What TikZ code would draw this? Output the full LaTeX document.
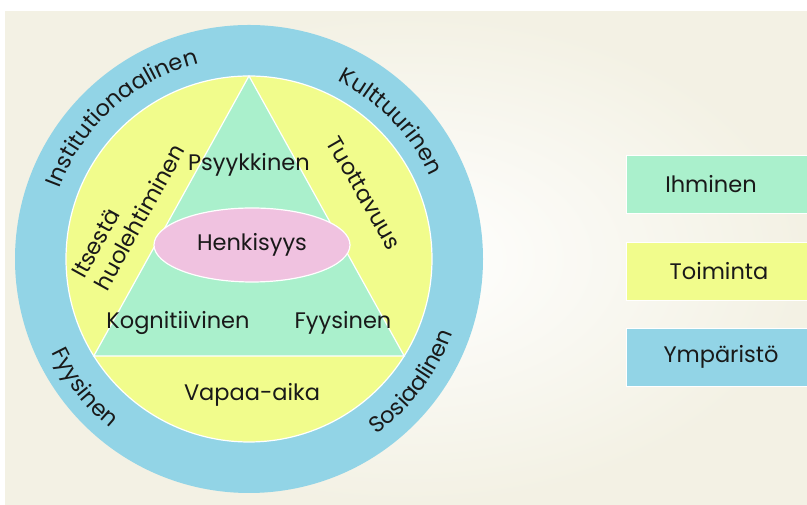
\documentclass[tikz,border=0pt]{standalone}
\usepackage{fontspec}
\setmainfont{Poppins}
\usetikzlibrary{calc,positioning,shapes.geometric,decorations.text}
\definecolor{ringblue}{RGB}{146,212,230}
\definecolor{actyellow}{RGB}{241,252,140}
\definecolor{mangreen}{RGB}{170,240,204}
\definecolor{spirpink}{RGB}{240,194,224}
\definecolor{bgbeige}{RGB}{243,241,228}
\definecolor{txt}{RGB}{25,25,25}
\newcommand{\ringfont}{\fontsize{22.5}{26}\selectfont}
\tikzset{lbl/.style={font=\fontsize{22.5}{26}\selectfont,text=txt,inner sep=1pt},
  legbox/.style={draw=white,line width=0.8pt,minimum width=200pt,minimum height=58pt,inner sep=0pt},
  edge/.style={draw=white,line width=1.2pt},
  ringtext/.style={decorate,decoration={text along path,text align=center}}}
\begin{document}
\begin{tikzpicture}[x=1pt,y=1pt]
\useasboundingbox (0,0) rectangle (807,505);
\shade[inner color=white,outer color=bgbeige] (5,0) rectangle (807,493);
\coordinate (ctr) at (249,246);
\fill[ringblue] (ctr) circle[radius=234];
\fill[actyellow,edge] (ctr) circle[radius=183];
\filldraw[fill=mangreen,edge] ($(ctr)+(90:183)$) coordinate (apex)
  -- ($(ctr)+(212:183)$) coordinate (bl) -- ($(ctr)+(-32:183)$) coordinate (br) -- cycle;
\node[ellipse,fill=spirpink,edge,lbl,minimum width=196pt,minimum height=74pt] (henk) at (252,260) {Henkisyys};
\node[lbl] (psyk) at (249,340) {Psyykkinen};
\node[lbl] (kogn) at (178,182) {Kognitiivinen};
\node[lbl] (fyys) at (343,182) {Fyysinen};
\node[lbl] (vapaa) at (252,110) {Vapaa-aika};
\node[lbl,rotate=61,align=left] (itse) at (128,294) {Itsestä\\huolehtiminen};
\node[lbl,rotate=-60] (tuot) at (364,312) {Tuottavuus};
\path[ringtext,decoration={text={|\ringfont\color{txt}|Institutionaalinen}}]
  ($(ctr)+(172:202)$) arc[start angle=172,end angle=92,radius=202];
\path[ringtext,decoration={text={|\ringfont\color{txt}|Kulttuurinen}}]
  ($(ctr)+(74:199)$) arc[start angle=74,end angle=14,radius=199];
\path[ringtext,decoration={text={|\ringfont\color{txt}|Fyysinen}}]
  ($(ctr)+(198:219)$) arc[start angle=198,end angle=238,radius=219];
\path[ringtext,decoration={text={|\ringfont\color{txt}|Sosiaalinen}}]
  ($(ctr)+(-57:217)$) arc[start angle=-57,end angle=-17,radius=217];
\node[legbox,fill=mangreen] (ihmbox) at (726,321) {};
\node[legbox,fill=actyellow] (toibox) at (726,234) {};
\node[legbox,fill=ringblue] (ympbox) at (726,148) {};
\node[lbl] (ihm) at (711,321) {Ihminen};
\node[lbl] (toi) at (719,234) {Toiminta};
\node[lbl] (ymp) at (721,148) {Ympäristö};
\end{tikzpicture}
\end{document}
